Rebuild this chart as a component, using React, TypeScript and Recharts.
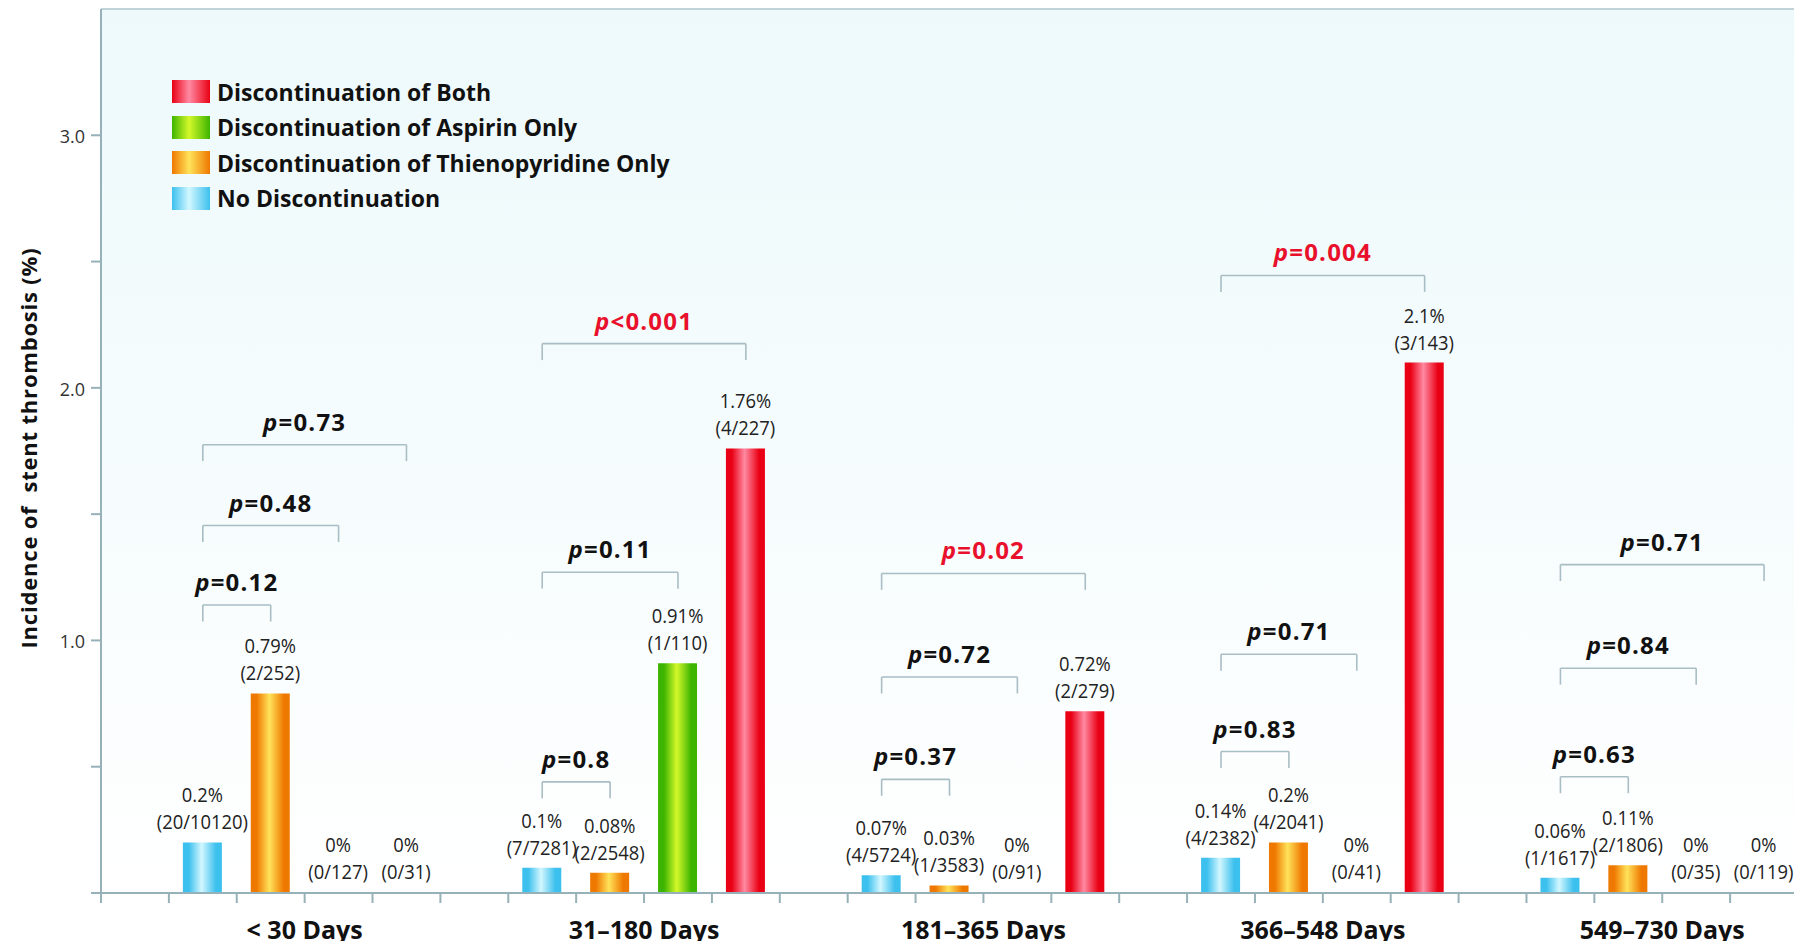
import React from "react";
import {
  BarChart,
  Bar,
  XAxis,
  YAxis,
  Cell,
  LabelList,
  ReferenceLine,
  ReferenceArea,
  Legend,
} from "recharts";

const FONT = "'Open Sans', 'Noto Sans', sans-serif";
const AXIS = "#97b1b8";
const FRAME = "#bfd3d8";
const BRACKET = "#a9bdc4";

// periods after stent implantation
const periods = ["< 30 Days", "31\u2013180 Days", "181\u2013365 Days", "366\u2013548 Days", "549\u2013730 Days"];

// series order inside each period (left to right)
const seriesNames = [
  "No Discontinuation",
  "Discontinuation of Thienopyridine Only",
  "Discontinuation of Aspirin Only",
  "Discontinuation of Both",
];

// incidence (%)
const noDiscontinuation = [0.2, 0.1, 0.07, 0.14, 0.06];
const thienopyridineOnly = [0.79, 0.08, 0.03, 0.2, 0.11];
const aspirinOnly = [0, 0.91, 0, 0, 0];
const bothStopped = [0, 1.76, 0.72, 2.1, 0];

// events / patients
const noDiscontinuationN = ["20/10120", "7/7281", "4/5724", "4/2382", "1/1617"];
const thienopyridineOnlyN = ["2/252", "2/2548", "1/3583", "4/2041", "2/1806"];
const aspirinOnlyN = ["0/127", "1/110", "0/91", "0/41", "0/35"];
const bothStoppedN = ["0/31", "4/227", "2/279", "3/143", "0/119"];

// p values: no discontinuation vs thieno / aspirin / both
const pVsThieno = ["=0.12", "=0.8", "=0.37", "=0.83", "=0.63"];
const pVsAspirin = ["=0.48", "=0.11", "=0.72", "=0.71", "=0.84"];
const pVsBoth = ["=0.73", "<0.001", "=0.02", "=0.004", "=0.71"];
const bothSignificant = [false, true, true, true, false];

// height of the brackets (in % units)
const levelThieno = [1.14, 0.44, 0.45, 0.56, 0.46];
const levelAspirin = [1.455, 1.27, 0.855, 0.945, 0.89];
const levelBoth = [1.775, 2.175, 1.265, 2.445, 1.3];

const yTicks = [0, 0.5, 1, 1.5, 2, 2.5, 3];

const seriesValues = [noDiscontinuation, thienopyridineOnly, aspirinOnly, bothStopped];
const seriesCounts = [noDiscontinuationN, thienopyridineOnlyN, aspirinOnlyN, bothStoppedN];

const gradients = [
  { id: "gCyan", edge: "#3cc0ee", mid: "#d2f7ff" },
  { id: "gOrange", edge: "#ef7800", mid: "#ffe35a" },
  { id: "gGreen", edge: "#3db500", mid: "#d4f82a" },
  { id: "gRed", edge: "#ea0014", mid: "#ff8aa2" },
];

// each period = one empty slot + 4 bar slots
const SLOTS = 5;
const slotCenter = (g: number, s: number) => g * SLOTS + 1 + s + 0.5;

const rows = periods.flatMap((_, g) =>
  seriesValues.map((vals, s) => ({
    x: slotCenter(g, s),
    value: vals[g],
    pct: `${vals[g]}%`,
    frac: `(${seriesCounts[s][g]})`,
    series: s,
  }))
);

const brackets = periods.flatMap((_, g) => [
  { g, to: 1, level: levelThieno[g], text: pVsThieno[g], red: false },
  { g, to: 2, level: levelAspirin[g], text: pVsAspirin[g], red: false },
  { g, to: 3, level: levelBoth[g], text: pVsBoth[g], red: bothSignificant[g] },
]);

const DROP = 0.065;
const xTicks = Array.from({ length: periods.length * SLOTS + 1 }, (_, i) => i);

const XTick = ({ x, y, payload }: any) => {
  const v = payload.value;
  if ((v - 3) % SLOTS !== 0) return <g />;
  return (
    <text x={x} y={y + 34} textAnchor="middle" fontFamily={FONT} fontWeight={700} fontSize={25} fill="#111">
      {periods[(v - 3) / SLOTS]}
    </text>
  );
};

const YTick = ({ x, y, payload }: any) => {
  const v = payload.value;
  if (v === 0 || v % 1 !== 0) return <g />;
  return (
    <text x={x} y={y} dy={8} textAnchor="end" fontFamily={FONT} fontSize={18} fill="#333">
      {v.toFixed(1)}
    </text>
  );
};

const YTitle = () => (
  <text
    x={29}
    y={440}
    transform="rotate(-90, 29, 440)"
    textAnchor="middle"
    fontFamily={FONT}
    fontWeight={700}
    fontSize={22}
    letterSpacing={0.8}
    fill="#111"
    style={{ whiteSpace: "pre" }}
  >
    {"Incidence of  stent thrombosis (%)"}
  </text>
);

// narrow look of the original labels: horizontally squeezed text
const BarText = ({ x, y, width, value, dy }: any) => (
  <g transform={`translate(${Number(x) + Number(width) / 2},${Number(y) + dy}) scale(0.92,1)`}>
    <text x={0} y={0} textAnchor="middle" fontFamily={FONT} fontSize={20} fill="#222">
      {value}
    </text>
  </g>
);

const PLabel = ({ viewBox, text, red }: any) => {
  if (!viewBox) return null;
  return (
    <text
      x={viewBox.x + viewBox.width / 2}
      y={viewBox.y - 14}
      textAnchor="middle"
      fontFamily={FONT}
      fontWeight={700}
      fontSize={24}
      letterSpacing={1.2}
      fill={red ? "#e8102a" : "#111"}
    >
      <tspan fontStyle="italic">p</tspan>
      {text}
    </text>
  );
};

const LegendBox = () => (
  <div style={{ fontFamily: FONT, fontWeight: 700, fontSize: 23, color: "#111" }}>
    {[3, 2, 1, 0].map((s) => (
      <div key={s} style={{ display: "flex", alignItems: "center", height: 35.5, whiteSpace: "nowrap" }}>
        <span
          style={{
            display: "inline-block",
            width: 38,
            height: 23,
            marginRight: 7,
            background: `linear-gradient(to right, ${gradients[s].edge} 0%, ${gradients[s].mid} 45%, ${gradients[s].edge} 100%)`,
          }}
        />
        {seriesNames[s]}
      </div>
    ))}
  </div>
);

export default function App() {
  return (
    <div style={{ marginBottom: -8 }}>
      <BarChart width={1794} height={941} data={rows} margin={{ top: 1, right: 4, left: 0, bottom: 0 }}>
        <defs>
          <linearGradient id="bgGrad" x1="0" y1="0" x2="0" y2="1">
            <stop offset="0%" stopColor="#edf9fb" />
            <stop offset="55%" stopColor="#f6fcfd" />
            <stop offset="100%" stopColor="#ffffff" />
          </linearGradient>
          {gradients.map((gr) => (
            <linearGradient key={gr.id} id={gr.id} x1="0" y1="0" x2="1" y2="0">
              <stop offset="0%" stopColor={gr.edge} />
              <stop offset="15%" stopColor={gr.edge} />
              <stop offset="48%" stopColor={gr.mid} />
              <stop offset="85%" stopColor={gr.edge} />
              <stop offset="100%" stopColor={gr.edge} />
            </linearGradient>
          ))}
        </defs>
        <ReferenceArea x1={0} x2={25} y1={0} y2={3.5} fill="url(#bgGrad)" fillOpacity={1} stroke="none" />
        <ReferenceLine y={3.5} stroke={FRAME} strokeWidth={2} />
        <ReferenceLine x={25} stroke={FRAME} strokeWidth={2} />
        <XAxis
          dataKey="x"
          type="number"
          domain={[0, 25]}
          ticks={xTicks}
          interval={0}
          tickSize={10}
          height={56}
          stroke={AXIS}
          strokeWidth={2}
          tick={<XTick />}
        />
        <YAxis
          type="number"
          domain={[0, 3.5]}
          ticks={yTicks}
          interval={0}
          tickSize={10}
          tickMargin={6}
          width={93}
          stroke={AXIS}
          strokeWidth={2}
          tick={<YTick />}
          label={<YTitle />}
        />
        <Legend
          layout="vertical"
          align="center"
          verticalAlign="middle"
          wrapperStyle={{ left: 164, top: 66, width: "auto", height: "auto" }}
          content={() => <LegendBox />}
        />
        {brackets.map((b, i) => {
          const x0 = slotCenter(b.g, 0);
          const x1 = slotCenter(b.g, b.to);
          return (
            <React.Fragment key={i}>
              <ReferenceLine
                segment={[{ x: x0, y: b.level }, { x: x1, y: b.level }]}
                stroke={BRACKET}
                strokeWidth={1.6}
                label={<PLabel text={b.text} red={b.red} />}
              />
              <ReferenceLine segment={[{ x: x0, y: b.level }, { x: x0, y: b.level - DROP }]} stroke={BRACKET} strokeWidth={1.6} />
              <ReferenceLine segment={[{ x: x1, y: b.level }, { x: x1, y: b.level - DROP }]} stroke={BRACKET} strokeWidth={1.6} />
            </React.Fragment>
          );
        })}
        <Bar dataKey="value" barSize={39} minPointSize={1} isAnimationActive={false}>
          {rows.map((r, i) => (
            <Cell key={i} fill={r.value === 0 ? "transparent" : `url(#${gradients[r.series].id})`} />
          ))}
          <LabelList dataKey="frac" content={(p: any) => <BarText {...p} dy={-13} />} />
          <LabelList dataKey="pct" content={(p: any) => <BarText {...p} dy={-40} />} />
        </Bar>
      </BarChart>
    </div>
  );
}
